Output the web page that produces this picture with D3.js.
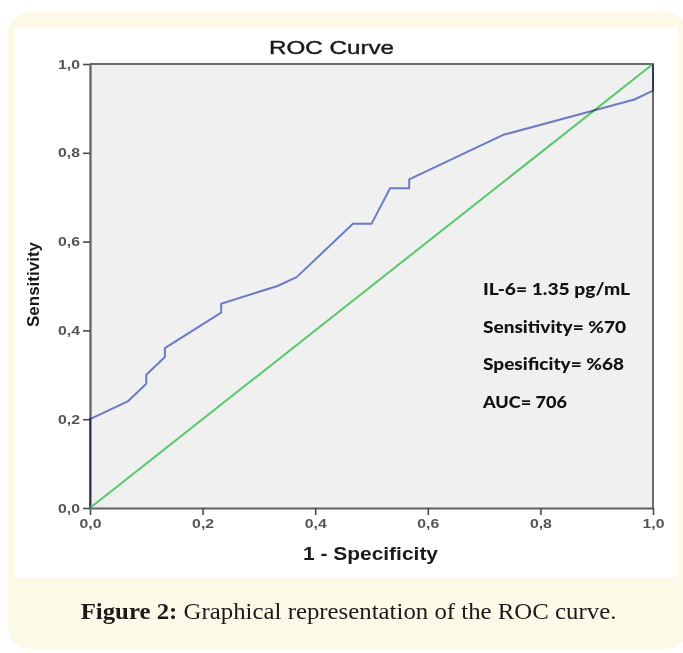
<!DOCTYPE html>
<html>
<head>
<meta charset="utf-8">
<script src="https://cdn.jsdelivr.net/npm/d3@7/dist/d3.min.js"></script>
<style>
  html, body { margin: 0; padding: 0; background: #ffffff; }
  svg { display: block; }
</style>
</head>
<body>
<div id="chart"></div>
<script>
// ROC curve points
let fpr = [0, 0, 0.067, 0.1, 0.1, 0.133, 0.133, 0.233, 0.233, 0.333, 0.367, 0.467, 0.5, 0.533, 0.567, 0.567, 0.733, 0.967, 1, 1];
let tpr = [0, 0.2, 0.24, 0.28, 0.30, 0.34, 0.36, 0.44, 0.46, 0.50, 0.52, 0.64, 0.64, 0.72, 0.72, 0.74, 0.84, 0.92, 0.94, 1];
let refX = [0, 1];
let refY = [0, 1];
let tickValues = [0, 0.2, 0.4, 0.6, 0.8, 1.0];
let notes = ["IL-6= 1.35 pg/mL", "Sensitivity= %70", "Spesificity= %68", "AUC= 706"];

let W = 683, H = 653;
let margin = { top: 64, right: 30, bottom: 145, left: 90 };
let width = 653 - margin.left, height = 508 - margin.top;

let svg = d3.select("#chart").append("svg")
    .attr("width", W)
    .attr("height", H);

// cream card and white panel
svg.append("rect")
    .attr("x", 8).attr("y", 12)
    .attr("width", 680).attr("height", 637)
    .attr("rx", 22)
    .attr("fill", "#fdf9e7");
svg.append("rect")
    .attr("x", 15).attr("y", 28)
    .attr("width", 663).attr("height", 549)
    .attr("fill", "#ffffff");

// stretch a text node horizontally to a given width
function stretch(node, w){
    let cur = node.getComputedTextLength();
    if (cur > 0) {
        d3.select(node).attr("textLength", w).attr("lengthAdjust", "spacingAndGlyphs");
    }
}

let g = svg.append("g")
    .attr("transform", "translate(" + margin.left + "," + margin.top + ")");

let x = d3.scaleLinear().domain([0, 1]).range([0, width]),
    y = d3.scaleLinear().domain([0, 1]).range([height, 0]);

g.append("rect")
    .attr("width", width).attr("height", height)
    .attr("fill", "#f0f0f0");

let fmt = function(d){ return d3.format(".1f")(d).replace(".", ","); };

let xAxis = g.append("g")
    .attr("transform", "translate(0," + height + ")")
    .call(d3.axisBottom(x).tickValues(tickValues).tickFormat(fmt).tickSizeOuter(0).tickSizeInner(7).tickPadding(4));
let yAxis = g.append("g")
    .call(d3.axisLeft(y).tickValues(tickValues).tickFormat(fmt).tickSizeOuter(0).tickSizeInner(7).tickPadding(3));

[xAxis, yAxis].forEach(function(a){
    a.select(".domain").attr("stroke", "#5e5e5e").attr("stroke-width", 2.2);
    a.selectAll(".tick line").attr("stroke", "#4a4a4a").attr("stroke-width", 1.6);
    a.selectAll(".tick text")
        .attr("fill", "#555555")
        .style("font-family", "'Liberation Sans', Arial, sans-serif")
        .style("font-size", "13px")
        .style("font-weight", "bold")
        .each(function(){ stretch(this, 22); });
});

// top and right border
g.append("path")
    .attr("d", "M0,0H" + width + "V" + height)
    .attr("fill", "none")
    .attr("stroke", "#6a6a6a")
    .attr("stroke-width", 2);

let line = d3.line()
    .x(function(d){ return x(d[0]); })
    .y(function(d){ return y(d[1]); });

g.append("path")
    .attr("d", line(d3.zip(refX, refY)))
    .attr("fill", "none")
    .attr("stroke", "#55c86a")
    .attr("stroke-width", 2);

g.append("path")
    .attr("d", line(d3.zip(fpr, tpr)))
    .attr("fill", "none")
    .attr("stroke", "#7283d3")
    .attr("stroke-width", 2)
    .attr("stroke-linejoin", "round")
    .style("mix-blend-mode", "multiply");

// annotation block
let noteWidths = [147, 143, 141, 84];
g.selectAll(".note")
    .data(notes)
    .enter().append("text")
    .attr("class", "note")
    .attr("x", 483 - margin.left)
    .attr("y", function(d, i){ return 295 + i * 37.7 - margin.top; })
    .attr("fill", "#111111")
    .style("font-family", "Lato, 'Open Sans', sans-serif")
    .style("font-weight", "900")
    .style("font-size", "17px")
    .text(function(d){ return d; })
    .each(function(d, i){ stretch(this, noteWidths[i]); });

// title and axis labels
svg.append("text")
    .attr("x", 331.5).attr("y", 54)
    .attr("text-anchor", "middle")
    .attr("fill", "#1a1a1a")
    .style("font-family", "'Liberation Sans', Arial, sans-serif")
    .style("font-size", "19px")
    .style("stroke", "#1a1a1a")
    .style("stroke-width", 0.4)
    .text("ROC Curve")
    .each(function(){ stretch(this, 125); });

svg.append("text")
    .attr("x", 370.5).attr("y", 560)
    .attr("text-anchor", "middle")
    .attr("fill", "#1a1a1a")
    .style("font-family", "'Liberation Sans', Arial, sans-serif")
    .style("font-size", "18px")
    .style("font-weight", "bold")
    .text("1 - Specificity")
    .each(function(){ stretch(this, 135); });

svg.append("text")
    .attr("transform", "translate(39,284.5) rotate(-90)")
    .attr("text-anchor", "middle")
    .attr("fill", "#1a1a1a")
    .style("font-family", "'Liberation Sans', Arial, sans-serif")
    .style("font-size", "16px")
    .style("font-weight", "bold")
    .text("Sensitivity")
    .each(function(){ stretch(this, 85); });

// caption
let cap = svg.append("g").attr("transform", "translate(348.5,619)");
let capText = cap.append("text")
    .attr("text-anchor", "middle")
    .attr("fill", "#1a1a1a")
    .style("font-family", "'Liberation Serif', 'DejaVu Serif', serif")
    .style("font-size", "23px");
capText.append("tspan").style("font-weight", "bold").text("Figure 2:");
capText.append("tspan").text(" Graphical representation of the ROC curve.");
let capW = capText.node().getComputedTextLength();
if (capW > 0) cap.attr("transform", "translate(348.5,619) scale(" + (536 / capW) + ",1)");
</script>
</body>
</html>
